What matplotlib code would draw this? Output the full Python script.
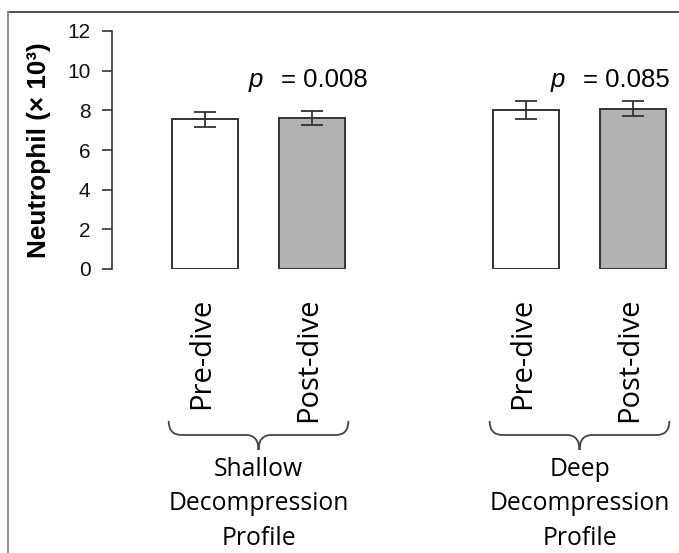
import matplotlib
matplotlib.use("Agg")
import matplotlib.pyplot as plt
import matplotlib.transforms as mtransforms
from matplotlib.path import Path
from matplotlib.patches import PathPatch
from matplotlib.lines import Line2D

# data
groups = ["Shallow\nDecompression\nProfile", "Deep\nDecompression\nProfile"]
conditions = ["Pre-dive", "Post-dive"]
means = [7.55, 7.6, 8.0, 8.07]
errors = [0.37, 0.35, 0.46, 0.38]
p_values = ["0.008", "0.085"]
bar_colors = ["white", "#b2b2b2"]

W, H = 679, 553
fig = plt.figure(figsize=(W / 100, H / 100), dpi=100)
fig.patch.set_facecolor("white")

def fx(px):
    return px / W

def fy(py):
    return 1 - py / H

ax_w = 679 - 112
ax = fig.add_axes([fx(112), fy(269), fx(679) - fx(112), fy(31) - fy(269)])

# bar positions: two bars per group, one empty slot between groups
pos = [g * 3 + c for g in range(len(groups)) for c in range(len(conditions))]
cols = [bar_colors[c] for g in range(len(groups)) for c in range(len(conditions))]

ax.bar(pos, means, width=0.62, color=cols, edgecolor="#333333", linewidth=1.4, zorder=2)
ax.errorbar(pos, means, yerr=errors, fmt="none", ecolor="#333333",
            elinewidth=1.3, capsize=8, capthick=1.3, zorder=3)

ax.set_xlim(-0.87, 4.43)
ax.set_ylim(0, 12)
ax.set_yticks(range(0, 13, 2))
ax.set_xticks([])
for s in ["top", "right", "bottom"]:
    ax.spines[s].set_visible(False)
ax.spines["left"].set_bounds(0, 12)
ax.spines["left"].set_color("#333333")
ax.spines["left"].set_linewidth(1.2)
ax.tick_params(axis="y", direction="out", length=7.5, width=1.2, color="#333333",
               pad=8, labelsize=15, labelcolor="#111111")
for lab in ax.get_yticklabels():
    lab.set_fontfamily("Liberation Sans")

ax.set_ylabel("Neutrophil (× 10³)", fontsize=18.8, fontweight="bold",
              fontfamily="Liberation Sans")
ax.yaxis.set_label_coords(-(112 - 51) / ax_w, 0.5)

# p values
for g, pv in enumerate(p_values):
    xe = [0.71, 3.53][g]
    ax.text(xe, 9.2, "= " + pv, fontsize=18.5, fontfamily="Liberation Sans",
            ha="left", va="baseline")
    ax.annotate("p", xy=(xe, 9.2), xytext=(-18, 0), textcoords="offset pixels",
                fontsize=18.5, fontfamily="Liberation Sans", style="italic",
                ha="right", va="baseline")

# category labels, braces and group names below the axes
blend = mtransforms.blended_transform_factory(ax.transData, fig.transFigure)
i = 0
for g, grp in enumerate(groups):
    for c, cond in enumerate(conditions):
        ax.text(pos[i] - 0.03, fy(298), cond, rotation=90, ha="center", va="top",
                fontsize=21, fontfamily="Open Sans", transform=blend, clip_on=False)
        i += 1
    xc = g * 3 + 0.5
    x0, x1 = xc - 0.84, xc + 0.84
    r = 0.12
    yt, ym, yb = fy(421), fy(435), fy(450)
    verts = [(x0, yt), (x0, ym), (x0 + r, ym),
             (xc - r, ym), (xc, ym), (xc, yb),
             (xc, ym), (xc + r, ym),
             (x1 - r, ym), (x1, ym), (x1, yt)]
    codes = [Path.MOVETO, Path.CURVE3, Path.CURVE3,
             Path.LINETO, Path.CURVE3, Path.CURVE3,
             Path.CURVE3, Path.CURVE3,
             Path.LINETO, Path.CURVE3, Path.CURVE3]
    ax.add_patch(PathPatch(Path(verts, codes), transform=blend, fill=False,
                           edgecolor="#444444", linewidth=1.3, clip_on=False))
    ax.text(xc, fy(457), grp, ha="center", va="top", fontsize=17.8,
            fontfamily="Open Sans", linespacing=1.5, transform=blend, clip_on=False)

# frame lines of the cropped figure
fig.add_artist(Line2D([fx(8), 1], [fy(12), fy(12)], color="#444444", linewidth=1.3))
fig.add_artist(Line2D([fx(8), fx(8)], [fy(12), 0], color="#888888", linewidth=1.3))

fig.savefig("out.png", dpi=100, facecolor="white")
